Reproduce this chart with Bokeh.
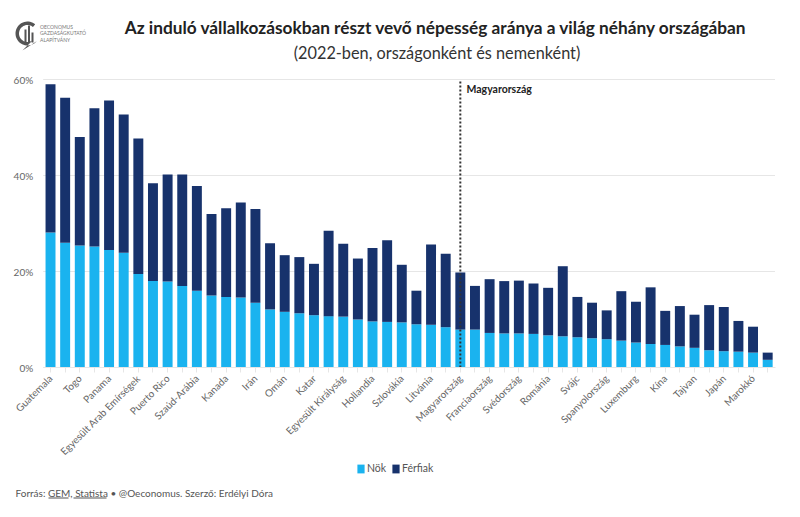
import numpy as np
from bokeh.embed import file_html
from bokeh.resources import INLINE
from bokeh.plotting import figure
from bokeh.models import (ColumnDataSource, Label, Legend, LegendItem, FixedTicker,
                          PrintfTickFormatter, Range1d, BoxAnnotation, PolyAnnotation)

countries = ["Guatemala", "", "Togo", "", "Panama", "", "Egyesült Arab Emírségek", "", "Puerto Rico", "",
             "Szaúd-Arábia", "", "Kanada", "", "Irán", "", "Omán", "", "Katar", "",
             "Egyesült Királyság", "", "Hollandia", "", "Szlovákia", "", "Litvánia", "", "Magyarország", "",
             "Franciaország", "", "Svédország", "", "Románia", "", "Svájc", "", "Spanyolország", "",
             "Luxemburg", "", "Kína", "", "Tajvan", "", "Japán", "", "Marokkó", ""]
nok = [28.1, 26.0, 25.4, 25.2, 24.5, 23.9, 19.5, 18.0, 17.9, 17.0,
       16.0, 15.0, 14.7, 14.6, 13.5, 12.1, 11.6, 11.3, 10.9, 10.7,
       10.6, 10.0, 9.6, 9.5, 9.4, 9.0, 8.9, 8.4, 7.9, 7.9,
       7.2, 7.1, 7.1, 7.0, 6.7, 6.5, 6.3, 6.1, 5.9, 5.6,
       5.2, 4.9, 4.7, 4.4, 4.1, 3.6, 3.4, 3.3, 3.1, 1.6]
osszes = [59.0, 56.2, 48.0, 54.0, 55.6, 52.7, 47.7, 38.4, 40.2, 40.2,
          37.8, 32.0, 33.2, 34.4, 33.0, 25.9, 23.4, 23.0, 21.6, 28.5,
          25.8, 22.7, 24.9, 26.5, 21.4, 16.0, 25.6, 23.7, 19.8, 17.0,
          18.4, 18.0, 18.1, 17.5, 16.6, 21.1, 14.7, 13.5, 11.9, 15.9,
          13.7, 16.7, 11.8, 12.8, 11.0, 13.0, 12.6, 9.7, 8.5, 3.1]
y_ticks = [0, 20, 40, 60]
title = "Az induló vállalkozásokban részt vevő népesség aránya a világ néhány országában"
subtitle = "(2022-ben, országonként és nemenként)"
source_text = "Forrás: GEM, Statista • @Oeconomus. Szerző: Erdélyi Dóra"
logo_lines = ["OECONOMUS", "GAZDASÁGKUTATÓ", "ALAPÍTVÁNY"]

FONT = "Lato"
W, H = 800, 517
LEFT, RIGHT, TOP, BOTTOM = 42.7, 774.5, 79, 367   # a tengelyek helye a képen
idx = list(range(len(countries)))
ferfiak = [round(t - n, 2) for t, n in zip(osszes, nok)]
src = ColumnDataSource(dict(x=idx, nok=nok, ferfiak=ferfiak))

x0, x1 = idx[0] - 0.5, idx[-1] + 0.5
ppx = (RIGHT - LEFT) / (x1 - x0)
ppy = (BOTTOM - TOP) / y_ticks[-1]
p = figure(width=W, height=H, output_backend="svg", toolbar_location=None,
           x_range=Range1d(x0 - LEFT / ppx, x1 + (W - RIGHT) / ppx),
           y_range=Range1d(-(H - BOTTOM) / ppy, BOTTOM / ppy),
           min_border=0, min_border_left=0, min_border_right=0, min_border_top=0, min_border_bottom=0)
p.outline_line_color = None
p.background_fill_color = "white"
p.grid.visible = False

grid_src = ColumnDataSource(dict(x0=[x0] * len(y_ticks), x1=[x1] * len(y_ticks), y=y_ticks))
p.segment(x0="x0", x1="x1", y0="y", y1="y", source=grid_src, line_color="#e6e6e6", line_width=1)
rs = p.vbar_stack(["nok", "ferfiak"], x="x", width=0.68, source=src,
                  color=["#1AB3EF", "#17326C"], line_color=None)

xa = p.xaxis[0]
xa.fixed_location = 0
xa.bounds = (x0, x1)
xa.ticker = FixedTicker(ticks=idx)
xa.major_label_overrides = {i: c for i, c in enumerate(countries)}
xa.major_label_orientation = np.pi / 4
xa.major_label_text_font = FONT
xa.major_label_text_font_size = "10px"
xa.major_label_text_color = "#666666"
xa.major_label_standoff = 4
xa.axis_line_color = "#e6e6e6"
xa.major_tick_line_color = "#e6e6e6"
xa.major_tick_out = 5
xa.major_tick_in = 0
xa.minor_tick_line_color = None

ya = p.yaxis[0]
ya.fixed_location = x0
ya.ticker = FixedTicker(ticks=y_ticks)
ya.formatter = PrintfTickFormatter(format="%d%%")
ya.major_label_text_font = FONT
ya.major_label_text_font_size = "10px"
ya.major_label_text_color = "#666666"
ya.axis_line_color = None
ya.major_tick_line_color = None
ya.minor_tick_line_color = None
ya.major_label_standoff = 4

hu = countries.index("Magyarország")
p.segment(x0=[hu], x1=[hu], y0=[y_ticks[0]], y1=[y_ticks[-1]], line_color="#333333",
          line_dash="2 2", line_width=2)


def sx(page_x):
    return page_x


def sy(page_y):
    return H - page_y


def txt(x, y, text, size, color="#333333", style="normal", align="left"):
    p.add_layout(Label(x=sx(x), y=sy(y), x_units="screen", y_units="screen", text=text,
                       text_font=FONT, text_font_size=size, text_color=color,
                       text_font_style=style, text_align=align, text_baseline="middle"))


txt(435.5, 27, title, "17.25px", "#222222", "bold", "center")
txt(436.5, 52, subtitle, "16.3px", "#333333", "normal", "center")
txt(466, 88, "Magyarország", "10.5px", "#222222", "bold")
txt(15, 492, source_text, "10px", "#555555")

for left, right in ((48, 68), (73, 106)):
    p.add_layout(BoxAnnotation(left=sx(left), right=sx(right), top=sy(498), bottom=sy(497),
                               left_units="screen", right_units="screen",
                               top_units="screen", bottom_units="screen",
                               fill_color="#555555", fill_alpha=1, line_color=None))

# logó
th = np.radians(np.linspace(50, 320, 40))
cx, cy, ro, ri = 27, 33, 12, 8.5
lx = np.r_[cx + ro * np.cos(th), 22, cx + ri * np.cos(th[::-1])]
ly = np.r_[cy - ro * np.sin(th), 50, cy - ri * np.sin(th[::-1])]
p.add_layout(PolyAnnotation(xs=list(sx(lx)), ys=list(sy(ly)), xs_units="screen", ys_units="screen",
                            fill_color="#555555", fill_alpha=1, line_color=None))
for bx0, bx1, by in ((24, 26, 29), (27.5, 29.5, 25), (31, 33, 32)):
    p.add_layout(BoxAnnotation(left=sx(bx0), right=sx(bx1), top=sy(by), bottom=sy(42),
                               left_units="screen", right_units="screen",
                               top_units="screen", bottom_units="screen",
                               fill_color="#555555", fill_alpha=1, line_color=None))
for i, t in enumerate(logo_lines):
    txt(39.5, 26 + i * 6.5, t, "5px", "#777777")

legend = Legend(items=[LegendItem(label="Nök", renderers=[rs[0]]),
                       LegendItem(label="Férfiak", renderers=[rs[1]])],
                orientation="horizontal", location=(sx(356), sy(474)),
                background_fill_alpha=0, border_line_color=None,
                glyph_width=9, glyph_height=11, spacing=4, label_standoff=2,
                label_text_font=FONT, label_text_font_size="10.5px", label_text_color="#555555",
                margin=0, padding=0)
p.add_layout(legend, "center")

open("out.html", "w").write(file_html(p, INLINE))
